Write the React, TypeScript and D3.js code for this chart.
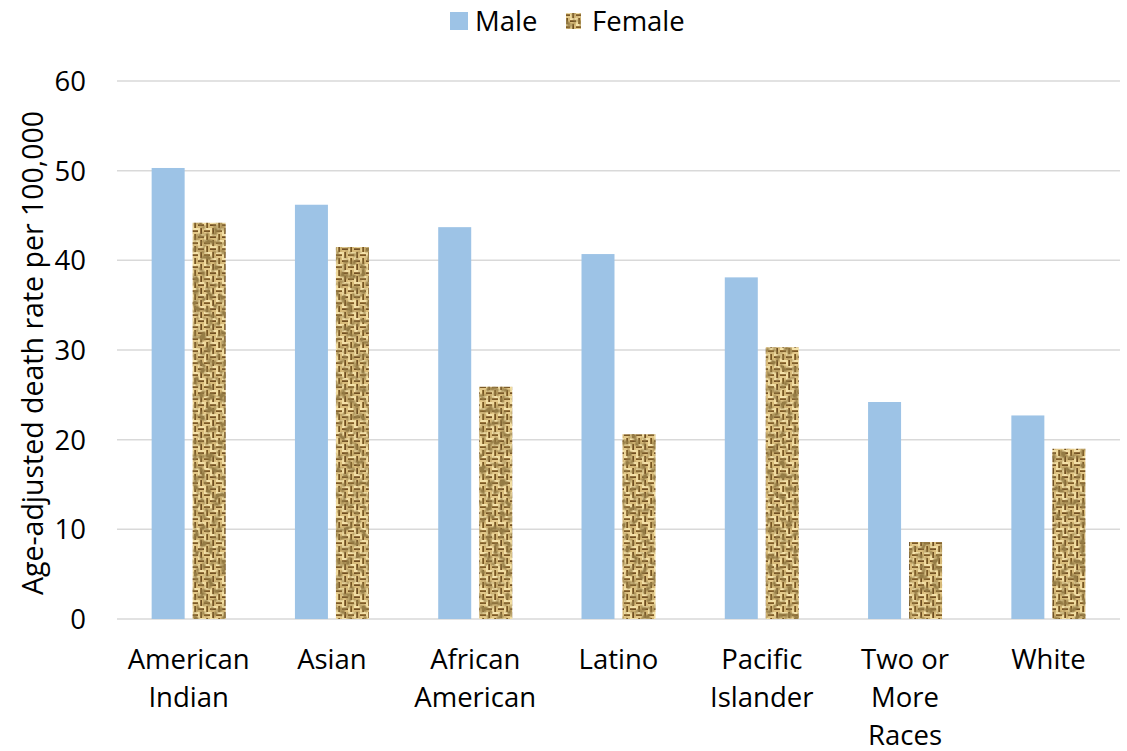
import React from "react";
import * as d3 from "d3";

const categories = [
  ["American", "Indian"],
  ["Asian"],
  ["African", "American"],
  ["Latino"],
  ["Pacific", "Islander"],
  ["Two or", "More", "Races"],
  ["White"],
];
const maleValues = [50.3, 46.2, 43.7, 40.7, 38.1, 24.2, 22.7];
const femaleValues = [44.2, 41.5, 25.9, 20.6, 30.3, 8.6, 19.0];
const yTicks = [0, 10, 20, 30, 40, 50, 60];
const seriesNames = ["Male", "Female"];

const W = 1127, H = 751;
const left = 117, right = 1120, top = 81, bottom = 619;
const font = "'Open Sans', Calibri, 'Liberation Sans', sans-serif";
const fs = 27.5;

export default function App() {
  const x = d3.scaleBand<number>().domain(d3.range(categories.length)).range([left, right]).paddingInner(0).paddingOuter(0);
  const y = d3.scaleLinear().domain([0, 60]).range([bottom, top]);
  const bw = 33, gap = 8;

  return (
    <svg width={W} height={H} style={{ position: "absolute", left: 0, top: 0 }}>
      <defs>
        <pattern id="weave" width="12" height="12" patternUnits="userSpaceOnUse">
          <rect width="12" height="12" fill="#b89455" />
          <rect x="0" y="0" width="6" height="2" fill="#f4e2aa" />
          <rect x="0" y="2.5" width="6" height="1.5" fill="#7a5826" />
          <rect x="0" y="4" width="6" height="2" fill="#e4c98a" />
          <rect x="6" y="0" width="2" height="6" fill="#f0dca0" />
          <rect x="8.5" y="0" width="1.5" height="6" fill="#6c4d20" />
          <rect x="10" y="0" width="2" height="6" fill="#d8bb7a" />
          <rect x="0" y="6" width="2" height="6" fill="#efd99c" />
          <rect x="2.5" y="6" width="1.5" height="6" fill="#755424" />
          <rect x="4" y="6" width="2" height="6" fill="#d6b977" />
          <rect x="6" y="6" width="6" height="2" fill="#f3e0a8" />
          <rect x="6" y="8.5" width="6" height="1.5" fill="#704f22" />
          <rect x="6" y="10" width="6" height="2" fill="#dabd7c" />
        </pattern>
        <filter id="blur" x="0" y="0" width="100%" height="100%">
          <feGaussianBlur stdDeviation="0.7" />
        </filter>
        <filter id="noise" x="0" y="0" width="100%" height="100%">
          <feTurbulence type="fractalNoise" baseFrequency="0.15" numOctaves="2" seed="5" result="n" />
          <feColorMatrix in="n" type="matrix" values="0 0 0 0 0.30  0 0 0 0 0.20  0 0 0 0 0.06  0 0 0 3 -1.3" />
        </filter>
        <clipPath id="clipF">
          {femaleValues.map((v, i) => {
            const cx = (x(i) as number) + x.bandwidth() / 2;
            return <rect key={i} x={cx + gap / 2} y={y(v)} width={bw} height={y(0) - y(v)} />;
          })}
          <rect x={566} y={13} width={15} height={16} />
        </clipPath>
      </defs>
      <rect width={W} height={H} fill="#fff" />
      {yTicks.map((t) => (
        <g key={t}>
          <line x1={left} x2={right} y1={y(t)} y2={y(t)} stroke="#d9d9d9" strokeWidth={1.5} />
          <text x={86} y={y(t)} dy="0.36em" textAnchor="end" fontFamily={font} fontSize={fs} fill="#000">{t}</text>
        </g>
      ))}
      {categories.map((c, i) => {
        const cx = (x(i) as number) + x.bandwidth() / 2;
        return (
          <g key={i}>
            <rect x={cx - gap / 2 - bw} y={y(maleValues[i])} width={bw} height={y(0) - y(maleValues[i])} fill="#9dc3e6" />
            {c.map((line, j) => (
              <text key={j} x={cx} y={669 + j * 38} textAnchor="middle" fontFamily={font} fontSize={fs} fill="#000">{line}</text>
            ))}
          </g>
        );
      })}
      <g clipPath="url(#clipF)">
        <rect x={0} y={0} width={W} height={H} fill="url(#weave)" filter="url(#blur)" />
        <rect x={0} y={0} width={W} height={H} filter="url(#noise)" />
      </g>
      <text transform={`translate(43, ${(top + bottom) / 2 + 3}) rotate(-90)`} textAnchor="middle" fontFamily={font} fontSize={28.5} fill="#000">
        Age-adjusted death rate per 100,000
      </text>
      <g>
        <rect x={450} y={12} width={18} height={18} fill="#9dc3e6" />
        <text x={475} y={31} fontFamily={font} fontSize={fs} fill="#000">{seriesNames[0]}</text>
        <text x={592} y={31} fontFamily={font} fontSize={fs} fill="#000">{seriesNames[1]}</text>
      </g>
    </svg>
  );
}
